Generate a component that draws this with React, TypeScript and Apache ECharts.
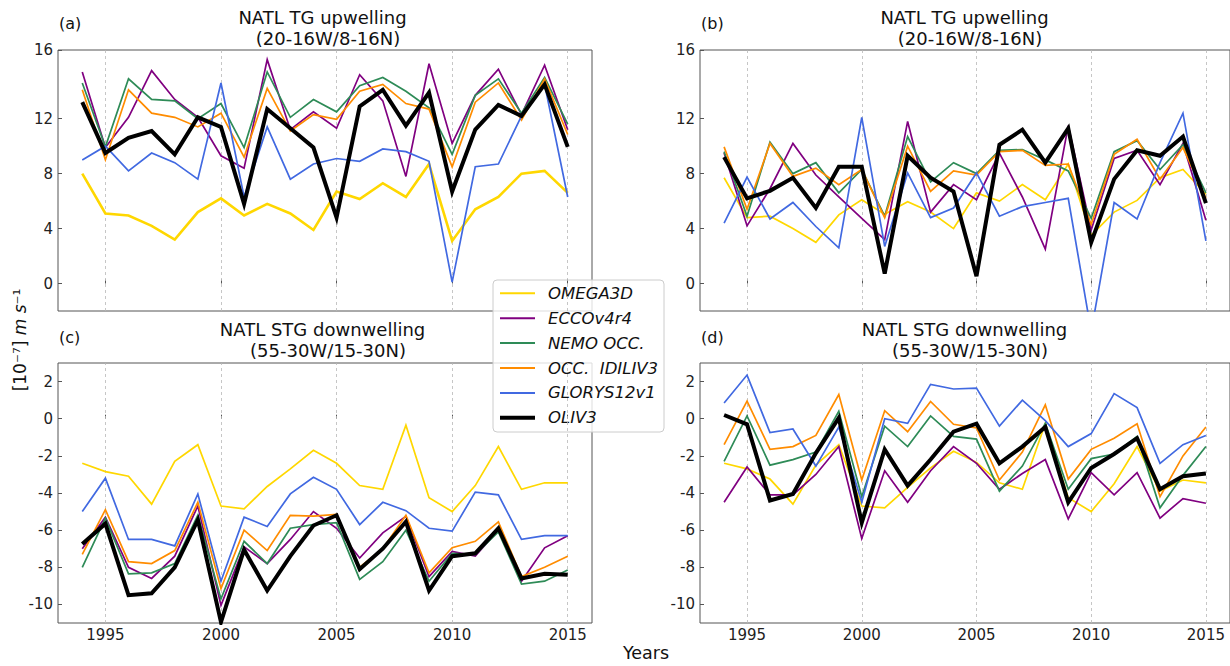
import React, { useEffect, useRef } from "react";
import * as echarts from "echarts";

// ---------- data ----------
const YEARS = [1994, 1995, 1996, 1997, 1998, 1999, 2000, 2001, 2002, 2003, 2004, 2005, 2006, 2007, 2008, 2009, 2010, 2011, 2012, 2013, 2014, 2015];
const GRID_YEARS = [1995, 2000, 2005, 2010, 2015];

const SERIES_NAMES = ["OMEGA3D", "ECCOv4r4", "NEMO OCC.", "OCC.\u00a0 IDILIV3", "GLORYS12v1", "OLIV3"];
const SERIES_COLORS = ["#FFD700", "#800080", "#2E8B57", "#FF8C00", "#4169E1", "#000000"];

// (a) NATL TG upwelling
const omegaA = [8.0, 5.1, 4.95, 4.2, 3.2, 5.2, 6.2, 4.95, 5.8, 5.1, 3.9, 6.7, 6.15, 7.3, 6.3, 8.7, 3.1, 5.4, 6.3, 8.0, 8.2, 6.6];
const eccoA = [15.4, 9.9, 12.1, 15.5, 13.4, 12.1, 9.3, 8.4, 16.3, 11.2, 12.5, 11.3, 15.2, 13.3, 7.8, 16.0, 10.2, 13.7, 15.6, 12.3, 15.9, 11.2];
const nemoA = [14.6, 9.95, 14.9, 13.4, 13.3, 12.0, 13.1, 9.9, 15.4, 12.1, 13.4, 12.5, 14.4, 15.0, 14.0, 12.8, 9.4, 13.7, 14.9, 12.4, 15.0, 11.6];
const occA = [14.1, 9.0, 14.1, 12.4, 12.1, 11.4, 12.4, 9.2, 14.2, 11.1, 12.3, 11.95, 14.0, 14.5, 13.1, 12.7, 8.5, 13.2, 14.6, 11.9, 14.9, 10.85];
const glorysA = [9.0, 10.0, 8.2, 9.5, 8.8, 7.6, 14.6, 6.3, 11.4, 7.6, 8.7, 9.1, 8.9, 9.8, 9.6, 8.9, 0.1, 8.5, 8.7, 12.2, 14.5, 6.3];
const olivA = [13.2, 9.5, 10.6, 11.1, 9.4, 12.1, 11.4, 5.8, 12.7, 11.3, 9.9, 4.8, 12.9, 14.1, 11.5, 13.9, 6.7, 11.2, 13.0, 12.2, 14.5, 9.95];

// (b) NATL TG upwelling
const omegaB = [7.7, 4.8, 4.9, 4.0, 3.0, 5.0, 6.1, 5.05, 5.95, 5.2, 4.0, 6.6, 6.0, 7.2, 6.1, 8.7, 3.5, 5.2, 6.05, 7.7, 8.3, 6.5];
const eccoB = [9.5, 4.2, 6.9, 10.2, 7.9, 6.3, 4.75, 3.2, 11.8, 5.2, 7.2, 6.1, 9.5, 6.3, 2.5, 11.5, 3.9, 9.1, 9.7, 7.2, 10.2, 4.6];
const nemoB = [9.6, 4.9, 10.3, 8.0, 8.8, 6.6, 8.3, 4.9, 10.7, 7.4, 8.8, 8.0, 9.7, 9.75, 9.0, 8.2, 4.75, 9.6, 10.4, 8.3, 10.1, 6.6];
const occB = [9.95, 5.4, 10.2, 7.8, 8.4, 7.2, 8.3, 4.8, 10.0, 6.7, 8.2, 7.9, 9.6, 9.7, 8.6, 8.7, 4.3, 9.4, 10.5, 7.6, 9.9, 6.2];
const glorysB = [4.4, 7.75, 4.7, 5.9, 4.15, 2.6, 12.1, 2.7, 8.05, 4.8, 5.5, 8.05, 4.9, 5.6, 5.9, 6.2, -3.5, 5.9, 4.7, 8.8, 12.4, 3.1];
const olivB = [9.2, 6.2, 6.75, 7.7, 5.5, 8.5, 8.5, 0.73, 9.3, 7.7, 6.7, 0.54, 10.1, 11.2, 8.8, 11.3, 3.0, 7.6, 9.7, 9.3, 10.7, 5.85];

// (c) NATL STG downwelling
const omegaC = [-2.4, -2.85, -3.1, -4.6, -2.3, -1.4, -4.7, -4.85, -3.65, -2.7, -1.7, -2.4, -3.6, -3.8, -0.35, -4.25, -5.0, -3.6, -1.5, -3.8, -3.45, -3.45];
const eccoC = [-7.0, -5.3, -8.0, -8.6, -7.4, -4.7, -10.05, -6.9, -7.8, -6.5, -5.0, -5.9, -7.5, -6.15, -5.25, -8.5, -7.15, -7.4, -6.0, -8.75, -6.95, -6.3];
const nemoC = [-8.0, -5.35, -8.35, -8.3, -7.8, -5.2, -9.7, -6.6, -7.8, -5.9, -5.7, -5.6, -8.65, -7.7, -6.0, -8.75, -7.25, -7.3, -6.1, -8.9, -8.75, -8.15];
const occC = [-7.3, -4.9, -7.7, -7.8, -7.1, -4.5, -9.15, -6.0, -7.1, -5.2, -5.25, -5.15, -8.0, -7.0, -5.2, -8.3, -6.95, -6.6, -5.55, -8.5, -8.0, -7.4];
const glorysC = [-5.0, -3.2, -6.5, -6.5, -6.85, -4.05, -8.75, -5.3, -5.8, -4.05, -3.15, -3.8, -5.7, -4.5, -4.95, -5.9, -6.05, -3.95, -4.1, -6.5, -6.3, -6.3];
const olivC = [-6.75, -5.65, -9.5, -9.4, -8.0, -5.45, -10.95, -7.05, -9.25, -7.4, -5.75, -5.2, -8.1, -7.0, -5.55, -9.25, -7.4, -7.25, -5.9, -8.6, -8.35, -8.4];

// (d) NATL STG downwelling
const omegaD = [-2.4, -2.7, -3.25, -4.6, -2.5, -1.4, -4.7, -4.8, -3.7, -2.65, -1.75, -2.35, -3.45, -3.8, -0.25, -4.25, -5.0, -3.5, -1.5, -3.9, -3.3, -3.45];
const eccoD = [-4.5, -2.6, -4.1, -4.1, -3.0, -1.5, -6.45, -2.8, -4.5, -2.8, -1.5, -2.4, -3.8, -2.95, -2.2, -5.4, -2.9, -4.1, -2.9, -5.35, -4.3, -4.55];
const nemoD = [-2.3, 0.15, -2.5, -2.2, -1.8, 0.4, -4.2, -0.4, -1.5, 0.15, -0.95, -1.1, -3.9, -2.55, -0.25, -3.8, -2.15, -1.9, -0.95, -4.8, -3.05, -1.5];
const occD = [-1.4, 0.95, -1.65, -1.5, -0.9, 1.3, -3.3, 0.43, -0.7, 0.93, -0.3, -0.5, -3.3, -1.8, 0.75, -3.25, -1.65, -1.05, -0.27, -4.2, -2.0, -0.45];
const glorysD = [0.85, 2.35, -0.75, -0.55, -2.55, -0.45, -4.5, 0.0, -0.25, 1.85, 1.6, 1.65, -0.4, 1.0, -0.1, -1.5, -0.8, 1.35, 0.6, -2.4, -1.4, -0.9];
const olivD = [0.2, -0.3, -4.4, -4.05, -1.85, 0.05, -5.6, -1.65, -3.6, -2.2, -0.7, -0.27, -2.4, -1.5, -0.45, -4.5, -2.65, -1.9, -1.05, -3.8, -3.1, -2.95];

// axis ticks
const X_MIN = 1992.95;
const X_MAX = 2016.05;
const Y_TICKS_TOP = [0, 4, 8, 12, 17];
const Y_TICK_LABELS_TOP = ["0", "4", "8", "12", "16"];
const Y_TICKS_BOTTOM = [-10, -8, -6, -4, -2, 0, 2];
const Y_TICK_LABELS_BOTTOM = ["-10", "-8", "-6", "-4", "-2", "0", "2"];

const TITLES = [
  ["NATL TG upwelling", "(20-16W/8-16N)"],
  ["NATL TG upwelling", "(20-16W/8-16N)"],
  ["NATL STG downwelling", "(55-30W/15-30N)"],
  ["NATL STG downwelling", "(55-30W/15-30N)"],
];
const LETTERS = ["(a)", "(b)", "(c)", "(d)"];

const FONT = '"DejaVu Sans", Verdana, sans-serif';

function buildOption() {
  const panelData = [
    [omegaA, eccoA, nemoA, occA, glorysA, olivA],
    [omegaB, eccoB, nemoB, occB, glorysB, olivB],
    [omegaC, eccoC, nemoC, occC, glorysC, olivC],
    [omegaD, eccoD, nemoD, occD, glorysD, olivD],
  ];
  const layout = [
    { left: 58, top: 50, width: 534, height: 261 },
    { left: 700, top: 50, width: 534, height: 261 },
    { left: 58, top: 363, width: 534, height: 260 },
    { left: 700, top: 363, width: 534, height: 260 },
  ];
  const grids: any[] = [];
  const xAxes: any[] = [];
  const yAxes: any[] = [];
  const series: any[] = [];
  const graphics: any[] = [];

  layout.forEach((g, p) => {
    const top = p < 2;
    const yTicks = top ? Y_TICKS_TOP : Y_TICKS_BOTTOM;
    const yLabels = top ? Y_TICK_LABELS_TOP : Y_TICK_LABELS_BOTTOM;
    grids.push({
      ...g,
      show: true,
      borderColor: "#555",
      borderWidth: 1,
      backgroundColor: "transparent",
      containLabel: false,
    });
    xAxes.push({
      type: "value",
      gridIndex: p,
      min: X_MIN,
      max: X_MAX,
      axisLine: { show: false },
      splitLine: { show: false },
      axisTick: { show: true, inside: true, length: 4, customValues: GRID_YEARS, lineStyle: { color: "#555" } },
      axisLabel: {
        show: !top,
        customValues: GRID_YEARS,
        formatter: (v: number) => String(Math.round(v)),
        fontFamily: FONT,
        fontSize: 15,
        color: "#222",
        margin: 4,
      },
    });
    yAxes.push({
      type: "value",
      gridIndex: p,
      min: top ? -2 : -11,
      max: top ? 17 : 3,
      axisLine: { show: false },
      splitLine: { show: false },
      axisTick: { show: true, inside: true, length: 4, customValues: yTicks, lineStyle: { color: "#555" } },
      axisLabel: {
        customValues: yTicks,
        formatter: (v: number) => {
          const i = yTicks.findIndex((t) => Math.abs(t - v) < 1e-6);
          return i >= 0 ? yLabels[i] : "";
        },
        fontFamily: FONT,
        fontSize: 15,
        color: "#222",
        margin: 5,
      },
    });
    // dashed vertical grid lines
    series.push({
      type: "line",
      xAxisIndex: p,
      yAxisIndex: p,
      data: [],
      silent: true,
      z: 1,
      markLine: {
        z: 1,
        silent: true,
        animation: false,
        symbol: ["none", "none"],
        label: { show: false },
        lineStyle: { color: "#b8b8b8", type: [3, 3], width: 0.8 },
        emphasis: { disabled: true },
        data: GRID_YEARS.map((y) => ({ xAxis: y })),
      },
    });
    panelData[p].forEach((arr, s) => {
      let width = s === 5 ? 4 : 1.7;
      if (p === 0 && s === 0) width = 2.6;
      series.push({
        type: "line",
        name: SERIES_NAMES[s],
        xAxisIndex: p,
        yAxisIndex: p,
        data: YEARS.map((yr, k) => [yr, arr[k]]),
        symbol: "none",
        silent: true,
        clip: true,
        z: 2,
        lineStyle: { color: SERIES_COLORS[s], width, join: "miter" },
        itemStyle: { color: SERIES_COLORS[s] },
        emphasis: { disabled: true },
      });
    });

    const cx = g.left + g.width / 2;
    const y1 = top ? 17 : 329;
    graphics.push({
      type: "text",
      x: cx - 2.5,
      y: y1,
      style: { text: TITLES[p][0], fontFamily: FONT, fontSize: 18, fill: "#111", align: "center", verticalAlign: "middle", textAlign: "center", textVerticalAlign: "middle" },
    });
    graphics.push({
      type: "text",
      x: cx + 3,
      y: y1 + 21,
      style: { text: TITLES[p][1], fontFamily: FONT, fontSize: 18, fill: "#111", align: "center", verticalAlign: "middle", textAlign: "center", textVerticalAlign: "middle" },
    });
    graphics.push({
      type: "text",
      x: g.left + 1,
      y: top ? 23 : 337,
      style: { text: LETTERS[p], fontFamily: FONT, fontSize: 16, fill: "#111", align: "left", verticalAlign: "middle", textAlign: "left", textVerticalAlign: "middle" },
    });
  });

  // axis titles
  graphics.push({
    type: "text",
    x: 646,
    y: 653,
    style: { text: "Years", fontFamily: FONT, fontSize: 17.5, fill: "#111", align: "center", verticalAlign: "middle", textAlign: "center", textVerticalAlign: "middle" },
  });
  graphics.push({
    type: "text",
    x: 20,
    y: 340,
    rotation: Math.PI / 2,
    style: {
      text: "{n|[10⁻⁷] }{i|m s}{n|⁻¹}",
      align: "center",
      verticalAlign: "middle",
      textAlign: "center",
      textVerticalAlign: "middle",
      fill: "#111",
      rich: {
        n: { fontFamily: FONT, fontSize: 17, fill: "#111", color: "#111" },
        i: { fontFamily: FONT, fontSize: 17, fontStyle: "italic", fill: "#111", color: "#111" },
      },
    },
  });

  // legend
  const lx = 493, ly = 280, lw = 171, lh = 152;
  const legendChildren: any[] = [
    {
      type: "rect",
      shape: { x: 0, y: 0, width: lw, height: lh, r: 4 },
      style: { fill: "rgba(255,255,255,0.8)", stroke: "#cccccc", lineWidth: 1 },
    },
  ];
  SERIES_NAMES.forEach((name, i) => {
    const yy = 13.3 + i * 24.9;
    legendChildren.push({
      type: "line",
      shape: { x1: 7, y1: yy, x2: 42, y2: yy },
      style: { stroke: SERIES_COLORS[i], lineWidth: i === 5 ? 4 : 2 },
    });
    legendChildren.push({
      type: "text",
      x: 55,
      y: yy,
      style: { text: name, fontFamily: FONT, fontSize: 16.5, fontStyle: "italic", fill: "#111", align: "left", verticalAlign: "middle", textAlign: "left", textVerticalAlign: "middle" },
    });
  });
  graphics.push({ type: "group", x: lx, y: ly, z: 100, children: legendChildren });

  return {
    animation: false,
    backgroundColor: "#ffffff",
    grid: grids,
    xAxis: xAxes,
    yAxis: yAxes,
    series,
    graphic: { elements: graphics },
  };
}

export default function App() {
  const ref = useRef<HTMLDivElement>(null);
  useEffect(() => {
    if (!ref.current) return;
    const chart = echarts.init(ref.current, null, { renderer: "svg" });
    chart.setOption(buildOption() as any);
    return () => chart.dispose();
  }, []);
  return (
    <div
      ref={ref}
      style={{ position: "fixed", left: 0, top: 0, width: 1230, height: 666, background: "#fff" }}
    />
  );
}
